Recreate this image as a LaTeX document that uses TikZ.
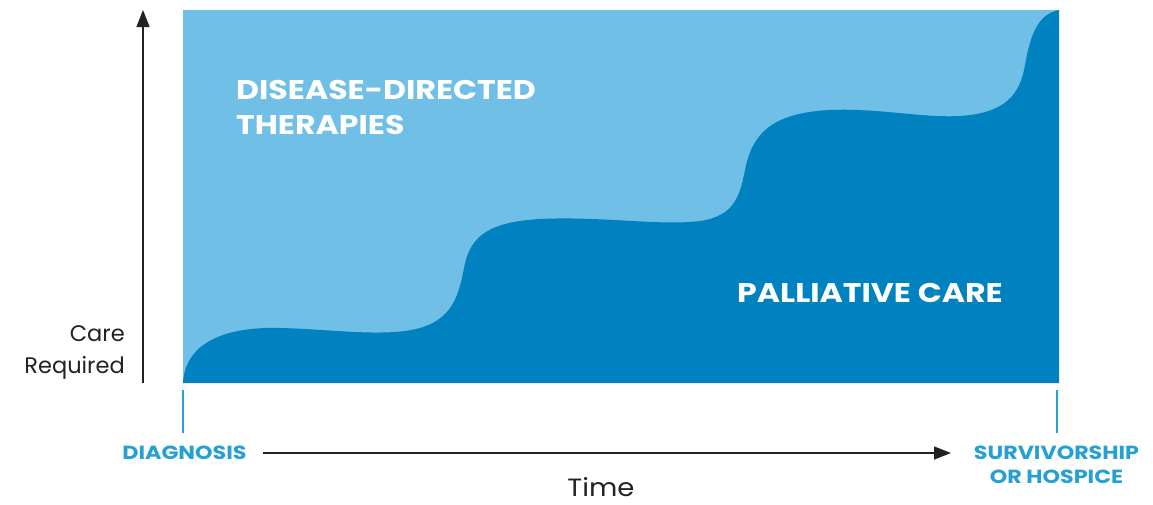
\documentclass[tikz,border=0pt]{standalone}
\usepackage{fontspec}
\setmainfont{Poppins}
\newfontfamily\widefont[FakeStretch=1.17]{Poppins}
\newfontfamily\plainwide[FakeStretch=1.1]{Poppins}
\usetikzlibrary{arrows.meta}
\definecolor{lightfill}{HTML}{6FBFE6}
\definecolor{darkfill}{HTML}{0082C0}
\definecolor{marker}{HTML}{24A0D5}
\definecolor{axisgray}{HTML}{222222}
\tikzset{
  bandlabel/.style={text=white, font=\widefont\fontsize{27}{35}\selectfont\bfseries, align=left, inner sep=0pt},
  axislabel/.style={text=axisgray, font=\fontsize{22.5}{32}\selectfont, inner sep=0pt},
  endlabel/.style={text=marker, font=\widefont\fontsize{19}{24}\selectfont\bfseries, align=center, inner sep=0pt},
  tickline/.style={draw=marker, line width=1.5pt},
  axisarrow/.style={draw=axisgray, line width=1.4pt, -{Triangle[length=17pt,width=13pt]}}
}
\begin{document}
\begin{tikzpicture}[x=1pt,y=-1pt]
\useasboundingbox (0,0) rectangle (1153,504);

% care field
\fill[lightfill] (183,10) rectangle (1059,383);
\fill[darkfill] (183,383)
  .. controls (185,348) and (215,330) .. (265,328)
  .. controls (310,327) and (365,336) .. (405,331)
  .. controls (450,325) and (458,300) .. (464,268)
  .. controls (470,235) and (490,222) .. (540,219)
  .. controls (600,216) and (660,226) .. (700,221)
  .. controls (735,216) and (740,195) .. (745,170)
  .. controls (752,135) and (770,113) .. (830,110)
  .. controls (880,108) and (920,118) .. (960,116)
  .. controls (1005,113) and (1020,95) .. (1025,65)
  .. controls (1031,30) and (1040,14) .. (1059,10)
  -- (1059,383) -- cycle;

\node[bandlabel, anchor=north west] (ddt) at (236,80) {DISEASE-DIRECTED\\THERAPIES};
\node[bandlabel, anchor=center] (pal) at (870,293) {PALLIATIVE CARE};

% vertical axis
\coordinate (ybase) at (143,383);
\coordinate (ytop) at (143,10);
\draw[axisarrow] (ybase) -- (ytop);
\node[axislabel, anchor=east, align=right] (care) at (125,352) {Care\\Required};

% time axis
\coordinate (t0a) at (183,390);
\coordinate (t0b) at (183,433);
\coordinate (t1a) at (1057,390);
\coordinate (t1b) at (1057,433);
\draw[tickline] (t0a) -- (t0b);
\draw[tickline] (t1a) -- (t1b);
\node[endlabel] (diag) at (184.5,452.5) {DIAGNOSIS};
\node[endlabel] (surv) at (1056.5,464.5) {SURVIVORSHIP\\OR HOSPICE};
\coordinate (tstart) at (263,453);
\coordinate (tend) at (951,453);
\draw[axisarrow] (tstart) -- (tend);
\node[axislabel, font=\plainwide\fontsize{25}{30}\selectfont] (time) at (601,487) {Time};
\end{tikzpicture}
\end{document}
